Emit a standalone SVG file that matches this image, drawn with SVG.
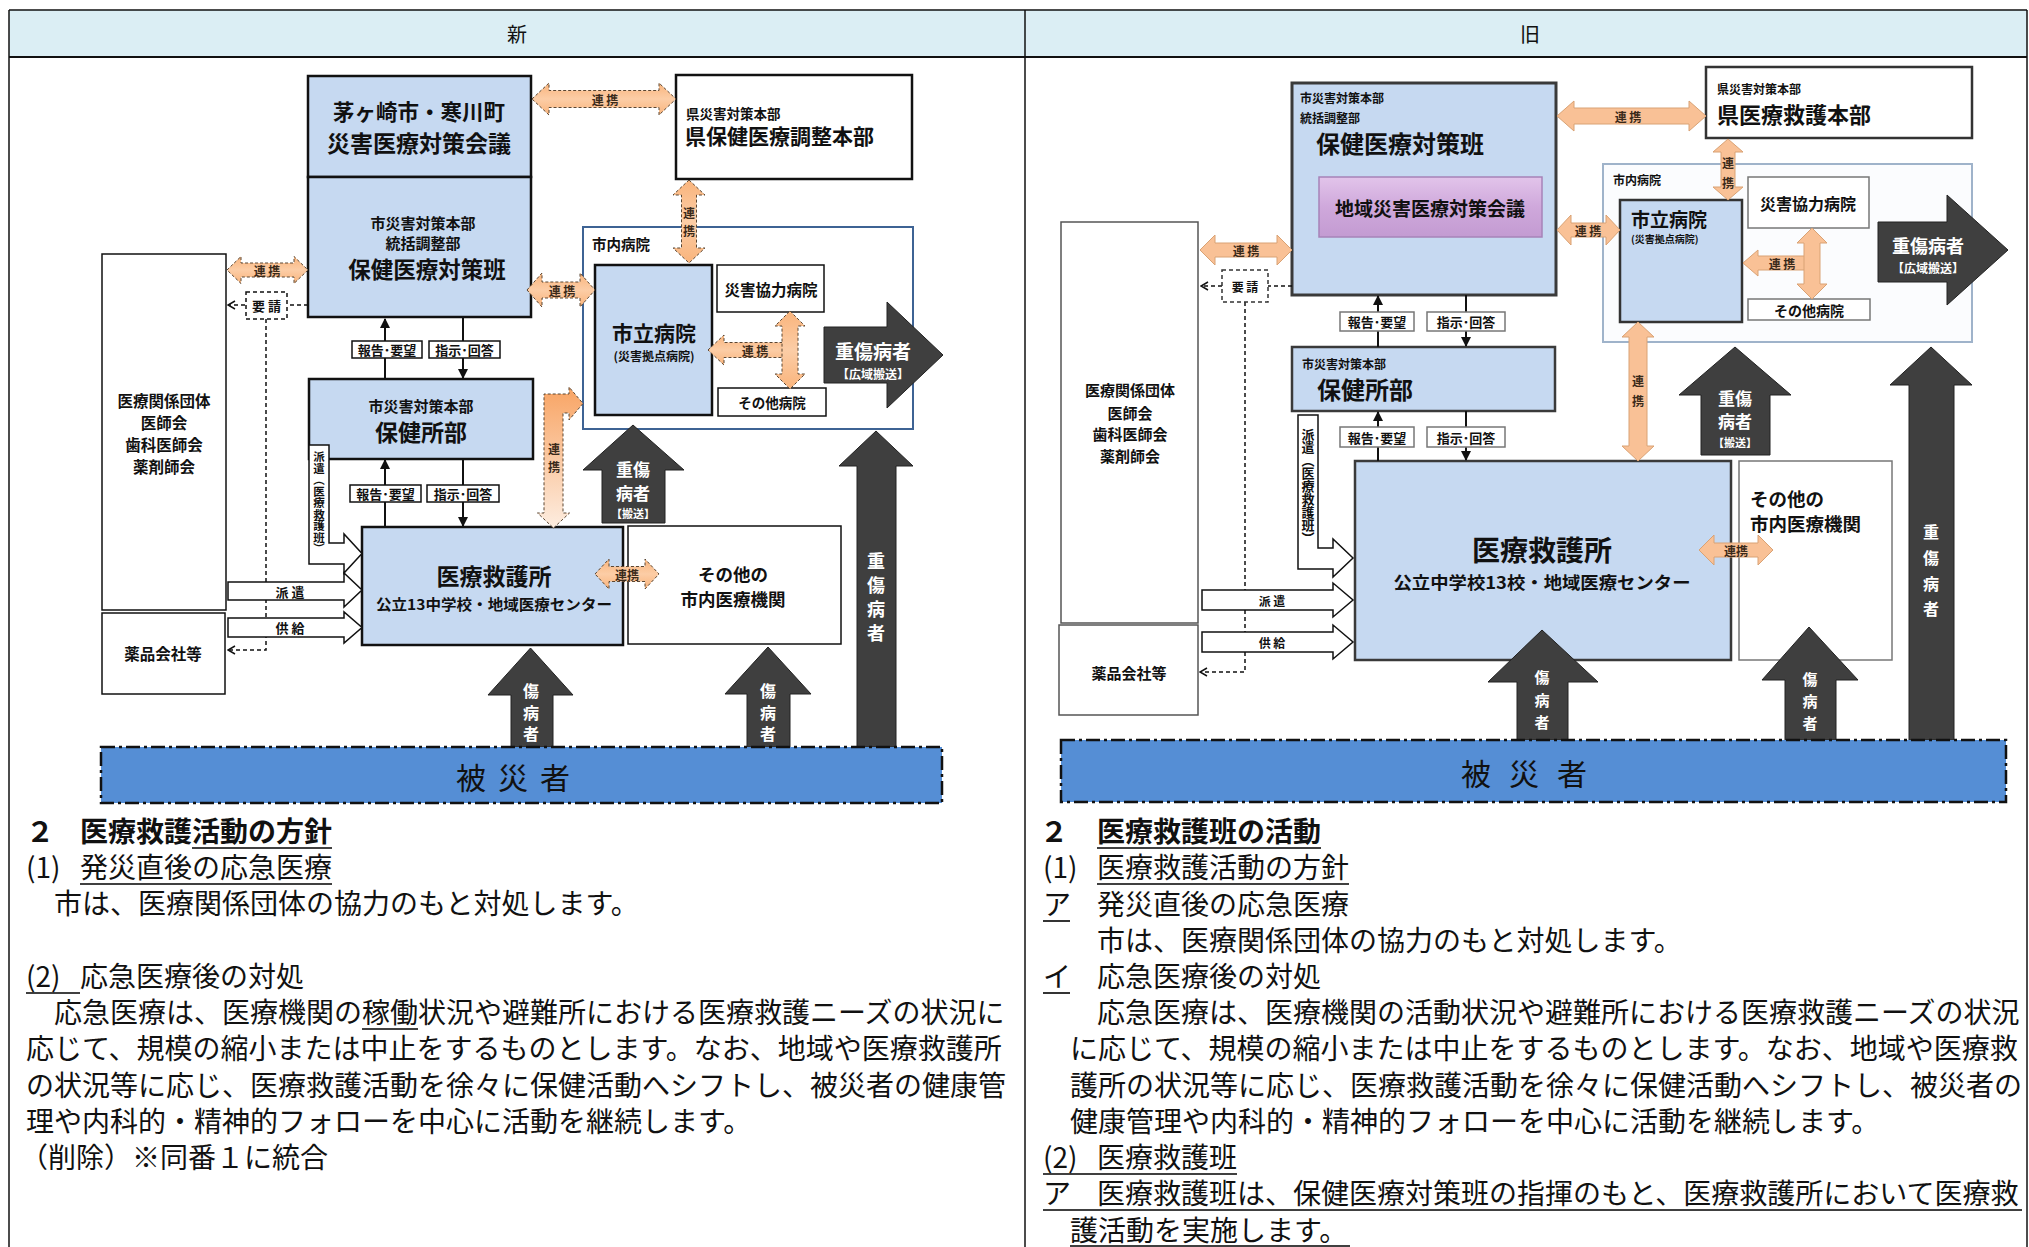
<svg xmlns="http://www.w3.org/2000/svg" width="2029" height="1247" viewBox="0 0 2029 1247">
<defs>
<style>
text{font-family:'Noto Sans CJK JP','Noto Sans',sans-serif;fill:#111}
.c{text-anchor:middle;dominant-baseline:central}
.s{dominant-baseline:central}
.b{font-weight:bold}
.w{fill:#fff;font-weight:bold}
.box{fill:#C6D9F1;stroke:#111;stroke-width:2.5}
.wbox{fill:#fff;stroke:#111;stroke-width:1.5}
.tbox{fill:#fff;stroke:#111;stroke-width:2.5}
.ora{fill:url(#og);stroke:#5a4632;stroke-width:1;stroke-dasharray:3 2}
.ora2{fill:#F9C196;stroke:#d9a274;stroke-width:1}
.dark{fill:#3f3f3f;stroke:#222;stroke-width:1}
.out{fill:#fff;stroke:#111;stroke-width:1.5}
.ln{stroke:#111;stroke-width:2;fill:none}
.dl{stroke:#111;stroke-width:1.5;fill:none;stroke-dasharray:4 3}
.lab{fill:#fff;stroke:#111;stroke-width:1.5}
.lab2{fill:#fff;stroke:#777;stroke-width:1.5}
.band{fill:#558ED5;stroke:#111;stroke-width:2.5;stroke-dasharray:14 4 3 4}
.body{font-size:28px}
.ul{stroke:#000;stroke-width:1.6}
.lk{font-size:12px;font-weight:bold;fill:#3a2a1a}
</style>
<linearGradient id="og" x1="0" y1="0" x2="0" y2="1">
<stop offset="0" stop-color="#F9B47C"/><stop offset="0.5" stop-color="#FCCDA6"/><stop offset="1" stop-color="#F9B47C"/>
</linearGradient>
<linearGradient id="ogv" x1="0" y1="0" x2="0" y2="1">
<stop offset="0" stop-color="#F8A464"/><stop offset="1" stop-color="#FDEDE0"/>
</linearGradient>
<linearGradient id="pg" x1="0" y1="0" x2="0" y2="1">
<stop offset="0" stop-color="#E2C4EA"/><stop offset="0.5" stop-color="#CFA8DB"/><stop offset="1" stop-color="#C39BD2"/>
</linearGradient>
<marker id="ah" viewBox="0 0 10 10" refX="9" refY="5" markerWidth="10" markerHeight="10" markerUnits="userSpaceOnUse" orient="auto"><path d="M0,0 L10,5 L0,10 Z" fill="#111"/></marker>
<marker id="oh" viewBox="0 0 10 10" refX="9" refY="5" markerWidth="10" markerHeight="10" markerUnits="userSpaceOnUse" orient="auto"><path d="M2,1 L9,5 L2,9" fill="none" stroke="#111" stroke-width="1.5"/></marker>
</defs>

<rect width="2029" height="1247" fill="#fff"/>

<g id="table">
<rect x="9" y="10" width="2018" height="47" fill="#DBEEF4"/>
<line x1="9" y1="10" x2="2027" y2="10" stroke="#111" stroke-width="1.5"/>
<line x1="9" y1="57" x2="2027" y2="57" stroke="#111" stroke-width="2"/>
<line x1="9" y1="10" x2="9" y2="1247" stroke="#111" stroke-width="1.5"/>
<line x1="1025" y1="10" x2="1025" y2="1247" stroke="#111" stroke-width="1.5"/>
<line x1="2027" y1="10" x2="2027" y2="1247" stroke="#111" stroke-width="1.5"/>
<text class="c" x="517" y="33" font-size="20">新</text>
<text class="c" x="1530" y="33" font-size="20">旧</text>
</g>

<!-- ================= NEW (left) nodes ================= -->
<g id="new-hospitals">
<rect x="583" y="227" width="330" height="202" fill="#fff" stroke="#3E6394" stroke-width="2"/>
<text class="s b" x="592" y="243" font-size="14.5">市内病院</text>
</g>
<g id="new-shiritsu">
<rect class="box" x="595" y="265" width="117" height="150"/>
<text class="c b" x="654" y="332" font-size="21">市立病院</text>
<text class="c b" x="654" y="355" font-size="12">(災害拠点病院)</text>
</g>
<g id="new-kyoryoku">
<rect class="wbox" x="717" y="265" width="107" height="47"/>
<text class="c b" x="771" y="289" font-size="15.5">災害協力病院</text>
</g>
<g id="new-sonota-byoin">
<rect class="wbox" x="718" y="388" width="108" height="28"/>
<text class="c b" x="772" y="402" font-size="13.5">その他病院</text>
</g>
<g id="new-kaigi">
<rect class="box" x="308" y="76" width="223" height="101"/>
<text class="c b" x="419" y="110" font-size="21.5">茅ヶ崎市・寒川町</text>
<text class="c b" x="419" y="142" font-size="23">災害医療対策会議</text>
</g>
<g id="new-taisakuhan">
<rect class="box" x="308" y="177" width="223" height="140"/>
<text class="c b" x="423" y="222" font-size="15">市災害対策本部</text>
<text class="c b" x="423" y="242" font-size="15">統括調整部</text>
<text class="c b" x="427" y="268" font-size="22.5">保健医療対策班</text>
</g>
<g id="new-ken">
<rect class="tbox" x="676" y="75" width="236" height="104"/>
<text class="s b" x="686" y="113" font-size="13.5">県災害対策本部</text>
<text class="s b" x="685" y="135" font-size="21">県保健医療調整本部</text>
</g>
<g id="new-hokenjo">
<rect class="box" x="309" y="379" width="224" height="80"/>
<text class="c b" x="421" y="405" font-size="15">市災害対策本部</text>
<text class="c b" x="421" y="431" font-size="23">保健所部</text>
</g>
<g id="new-dantai">
<rect class="wbox" x="102" y="254" width="124" height="356"/>
<text class="c b" x="164" y="400" font-size="15.5">医療関係団体</text>
<text class="c b" x="164" y="422" font-size="15.5">医師会</text>
<text class="c b" x="164" y="444" font-size="15.5">歯科医師会</text>
<text class="c b" x="164" y="466" font-size="15.5">薬剤師会</text>
</g>
<g id="new-yakuhin">
<rect class="wbox" x="102" y="613" width="123" height="81"/>
<text class="c b" x="163" y="653" font-size="15.5">薬品会社等</text>
</g>
<g id="new-kyugosho">
<rect class="box" x="362" y="527" width="261" height="118"/>
<text class="c b" x="494" y="575" font-size="23">医療救護所</text>
<text class="c b" x="494" y="603" font-size="14.5" textLength="236" lengthAdjust="spacingAndGlyphs">公立13中学校・地域医療センター</text>
</g>
<g id="new-sonota">
<rect class="wbox" x="628" y="526" width="213" height="118"/>
<text class="c b" x="733" y="573" font-size="17.5">その他の</text>
<text class="c b" x="733" y="598" font-size="17.5">市内医療機関</text>
</g>

<!-- ================= NEW connectors ================= -->
<g id="new-connectors">
<line class="ln" x1="385" y1="379" x2="385" y2="319" marker-end="url(#ah)"/>
<line class="ln" x1="463" y1="317" x2="463" y2="378" marker-end="url(#ah)"/>
<line class="ln" x1="385" y1="527" x2="385" y2="460" marker-end="url(#ah)"/>
<line class="ln" x1="463" y1="459" x2="463" y2="526" marker-end="url(#ah)"/>
<rect class="lab" x="352" y="341" width="70" height="17"/><text class="c b" x="387" y="349.5" font-size="13">報告･要望</text>
<rect class="lab" x="429" y="341" width="71" height="17"/><text class="c b" x="464.5" y="349.5" font-size="13">指示･回答</text>
<rect class="lab" x="350" y="485" width="71" height="17"/><text class="c b" x="385.5" y="493.5" font-size="13">報告･要望</text>
<rect class="lab" x="427" y="485" width="72" height="17"/><text class="c b" x="463" y="493.5" font-size="13">指示･回答</text>
<line class="dl" x1="308" y1="305" x2="228" y2="305" marker-end="url(#oh)"/>
<polyline class="dl" points="266,319 266,650 228,650" marker-end="url(#oh)"/>
<rect x="246" y="292" width="41" height="27" fill="#fff" stroke="#111" stroke-width="1.5" stroke-dasharray="4 3"/>
<text class="c b" x="266.5" y="305.5" font-size="13">要 請</text>
<path class="ora" d="M532 99 L549 83 L549 90.5 L659 90.5 L659 83 L676 99 L659 115 L659 107.5 L549 107.5 L549 115 Z"/>
<text class="c lk" x="605" y="99">連 携</text>
<path class="ora" d="M227 270 L241 256.5 L241 263 L294 263 L294 256.5 L308 270 L294 283.5 L294 277 L241 277 L241 283.5 Z"/>
<text class="c lk" x="267" y="270">連 携</text>
<path class="ora" d="M527 290 L542 273 L542 282 L580 282 L580 273 L595 290 L580 307 L580 298 L542 298 L542 307 Z"/>
<text class="c lk" x="562" y="290">連 携</text>
<path class="ora" d="M689 180 L705 195 L696.5 195 L696.5 248 L705 248 L689 263 L673 248 L681.5 248 L681.5 195 L673 195 Z"/>
<text class="c lk" x="689" y="212">連</text><text class="c lk" x="689" y="230">携</text>
<path class="ora" d="M708 350 L724 335 L724 342.5 L783 342.5 L783 357.5 L724 357.5 L724 365 Z"/>
<path class="ora" d="M790 311 L805 326 L798 326 L798 374 L805 374 L790 389 L775 374 L782 374 L782 326 L775 326 Z"/>
<text class="c lk" x="755" y="350">連 携</text>
<path class="ora" d="M595 574 L609 559 L609 566.5 L645 566.5 L645 559 L659 574 L645 589 L645 581.5 L609 581.5 L609 589 Z"/>
<text class="c lk" x="627" y="574">連携</text>
<path d="M553.5 528 L569.5 513 L563 513 L563 413 L569 413 L569 420 L583 403.5 L569 387 L569 394 L544 394 L544 513 L537.5 513 Z" fill="url(#ogv)" stroke="#5a4632" stroke-width="1" stroke-dasharray="3 2"/>
<text class="c lk" x="554" y="448">連</text><text class="c lk" x="554" y="466">携</text>
<path class="out" d="M309 445 L329 445 L329 543 L344 543 L344 534 L362 553.5 L344 573 L344 564 L309 564 Z"/>
<text x="319" y="451" font-size="11.5" font-weight="bold" style="writing-mode:vertical-rl">派遣（医療救護班）</text>
<path class="out" d="M228 582 L344 582 L344 573 L362 590 L344 607 L344 600 L228 600 Z"/>
<text class="c b" x="290" y="591" font-size="13">派 遣</text>
<path class="out" d="M228 618 L344 618 L344 612 L362 627.5 L344 643 L344 637 L228 637 Z"/>
<text class="c b" x="290" y="627.5" font-size="13">供 給</text>
</g>

<g id="new-patient-arrows">
<path class="dark" d="M824 327 L887 327 L887 302 L943 355 L887 408 L887 383 L824 383 Z"/>
<text class="c w" x="873" y="350" font-size="19">重傷病者</text>
<text class="c w" x="873" y="373" font-size="12">【広域搬送】</text>
<path class="dark" d="M633 425 L684 470 L665 470 L665 523 L602 523 L602 470 L583 470 Z"/>
<text class="c w" x="633" y="468" font-size="17">重傷</text>
<text class="c w" x="633" y="492" font-size="17">病者</text>
<text class="c w" x="633" y="513" font-size="11">【搬送】</text>
<path class="dark" d="M876 431 L913 466 L896 466 L896 747 L857 747 L857 466 L839 466 Z"/>
<text class="c w" x="876" y="560" font-size="18">重</text>
<text class="c w" x="876" y="584" font-size="18">傷</text>
<text class="c w" x="876" y="608" font-size="18">病</text>
<text class="c w" x="876" y="632" font-size="18">者</text>
<path class="dark" d="M530.5 648 L573 695 L553 695 L553 747 L511 747 L511 695 L488 695 Z"/>
<text class="c w" x="531" y="690" font-size="16">傷</text>
<text class="c w" x="531" y="712" font-size="16">病</text>
<text class="c w" x="531" y="733" font-size="16">者</text>
<path class="dark" d="M768 647 L811 694 L790 694 L790 747 L747 747 L747 694 L725 694 Z"/>
<text class="c w" x="768" y="690" font-size="16">傷</text>
<text class="c w" x="768" y="712" font-size="16">病</text>
<text class="c w" x="768" y="733" font-size="16">者</text>
</g>
<g id="new-hisaisha">
<rect class="band" x="101" y="747" width="841" height="56"/>
<text class="c" x="519" y="776" font-size="30" letter-spacing="12">被災者</text>
</g>

<!-- ================= OLD (right) nodes ================= -->
<g id="old-taisakuhan">
<rect x="1292" y="83" width="264" height="212" fill="#C6D9F1" stroke="#3a3a3a" stroke-width="3"/>
<text class="s b" x="1300" y="97" font-size="12" fill="#333">市災害対策本部</text>
<text class="s b" x="1300" y="117" font-size="12" fill="#333">統括調整部</text>
<text class="s b" x="1316" y="142" font-size="24">保健医療対策班</text>
</g>
<g id="old-chiiki-kaigi">
<rect x="1319" y="177" width="223" height="60" fill="url(#pg)" stroke="#A783B8" stroke-width="1.5"/>
<text class="c b" x="1430" y="207" font-size="19" fill="#222">地域災害医療対策会議</text>
</g>
<g id="old-ken">
<rect x="1706" y="67" width="266" height="71" fill="#fff" stroke="#333" stroke-width="2.5"/>
<text class="s b" x="1717" y="88" font-size="12" fill="#333">県災害対策本部</text>
<text class="s b" x="1717" y="113" font-size="22">県医療救護本部</text>
</g>
<g id="old-hospitals">
<rect x="1603" y="164" width="369" height="178" fill="#FBFCFE" stroke="#9FB3CA" stroke-width="2"/>
<text class="s b" x="1613" y="179" font-size="12" fill="#333">市内病院</text>
</g>
<g id="old-shiritsu">
<rect x="1620" y="200" width="122" height="122" fill="#C6D9F1" stroke="#333" stroke-width="2.5"/>
<text class="s b" x="1631" y="218" font-size="19">市立病院</text>
<text class="s b" x="1631" y="238" font-size="10" fill="#333">(災害拠点病院)</text>
</g>
<g id="old-kyoryoku">
<rect x="1748" y="177" width="121" height="51" fill="#fff" stroke="#777" stroke-width="1.5"/>
<text class="c b" x="1808" y="203" font-size="16" fill="#444">災害協力病院</text>
</g>
<g id="old-sonota-byoin">
<rect x="1748" y="299" width="122" height="21" fill="#fff" stroke="#777" stroke-width="1.5"/>
<text class="c b" x="1809" y="310" font-size="14" fill="#444">その他病院</text>
</g>
<g id="old-hokenjo">
<rect x="1292" y="347" width="263" height="64" fill="#C6D9F1" stroke="#3a3a3a" stroke-width="2.5"/>
<text class="s b" x="1302" y="363" font-size="12" fill="#333">市災害対策本部</text>
<text class="s b" x="1317" y="388" font-size="24">保健所部</text>
</g>
<g id="old-dantai">
<rect x="1061" y="222" width="137" height="401" fill="#fff" stroke="#555" stroke-width="1.5"/>
<text class="c b" x="1130" y="389" font-size="15" fill="#444">医療関係団体</text>
<text class="c b" x="1130" y="412" font-size="15" fill="#444">医師会</text>
<text class="c b" x="1130" y="433" font-size="15" fill="#444">歯科医師会</text>
<text class="c b" x="1130" y="455" font-size="15" fill="#444">薬剤師会</text>
</g>
<g id="old-yakuhin">
<rect x="1059" y="625" width="139" height="90" fill="#fff" stroke="#555" stroke-width="1.5"/>
<text class="c b" x="1129" y="672" font-size="15" fill="#444">薬品会社等</text>
</g>
<g id="old-kyugosho">
<rect x="1355" y="461" width="376" height="199" fill="#C6D9F1" stroke="#3a3a3a" stroke-width="2.5"/>
<text class="c b" x="1542" y="549" font-size="28">医療救護所</text>
<text class="c b" x="1542" y="581" font-size="17" fill="#333" textLength="297" lengthAdjust="spacingAndGlyphs">公立中学校13校・地域医療センター</text>
</g>
<g id="old-sonota">
<rect x="1739" y="461" width="153" height="199" fill="#fff" stroke="#777" stroke-width="1.5"/>
<text class="s b" x="1750" y="498" font-size="18.5" fill="#333">その他の</text>
<text class="s b" x="1750" y="523" font-size="18.5" fill="#333">市内医療機関</text>
</g>

<!-- ================= OLD connectors ================= -->
<g id="old-connectors">
<line class="ln" x1="1378" y1="347" x2="1378" y2="296" marker-end="url(#ah)"/>
<line class="ln" x1="1466" y1="295" x2="1466" y2="346" marker-end="url(#ah)"/>
<line class="ln" x1="1378" y1="461" x2="1378" y2="412" marker-end="url(#ah)"/>
<line class="ln" x1="1466" y1="411" x2="1466" y2="460" marker-end="url(#ah)"/>
<rect class="lab2" x="1340" y="312" width="74" height="19"/><text class="c b" x="1377" y="321.5" font-size="13" fill="#333">報告･要望</text>
<rect class="lab2" x="1427" y="312" width="78" height="19"/><text class="c b" x="1466" y="321.5" font-size="13" fill="#333">指示･回答</text>
<rect class="lab2" x="1340" y="427" width="74" height="20"/><text class="c b" x="1377" y="437" font-size="13" fill="#333">報告･要望</text>
<rect class="lab2" x="1427" y="427" width="78" height="20"/><text class="c b" x="1466" y="437" font-size="13" fill="#333">指示･回答</text>
<line class="dl" x1="1292" y1="286" x2="1201" y2="286" marker-end="url(#oh)"/>
<polyline class="dl" points="1245,302 1245,672 1200,672" marker-end="url(#oh)"/>
<rect x="1222" y="270" width="46" height="32" fill="#fff" stroke="#333" stroke-width="1.5" stroke-dasharray="4 3"/>
<text class="c b" x="1245" y="286" font-size="12" fill="#333">要 請</text>
<path class="ora2" d="M1557 116 L1574 101 L1574 108 L1689 108 L1689 101 L1706 116 L1689 131 L1689 124 L1574 124 L1574 131 Z"/>
<text class="c lk" x="1628" y="116">連 携</text>
<path class="ora2" d="M1200 250 L1215 235 L1215 243 L1277 243 L1277 235 L1292 250 L1277 265 L1277 257 L1215 257 L1215 265 Z"/>
<text class="c lk" x="1246" y="250">連 携</text>
<path class="ora2" d="M1557 230 L1571 215 L1571 223 L1606 223 L1606 215 L1620 230 L1606 245 L1606 237 L1571 237 L1571 245 Z"/>
<text class="c lk" x="1588" y="230">連 携</text>
<path class="ora2" d="M1728 139 L1743 152 L1735 152 L1735 187 L1743 187 L1728 200 L1713 187 L1721 187 L1721 152 L1713 152 Z"/>
<text class="c lk" x="1728" y="162">連</text><text class="c lk" x="1728" y="182">携</text>
<path class="ora2" d="M1743 263 L1758 250 L1758 256 L1812 256 L1812 270 L1758 270 L1758 276 Z"/>
<path class="ora2" d="M1812 228 L1827 243 L1820 243 L1820 284 L1827 284 L1812 299 L1797 284 L1804 284 L1804 243 L1797 243 Z"/>
<text class="c lk" x="1782" y="263">連 携</text>
<path class="ora2" d="M1638 322 L1654 337 L1647 337 L1647 446 L1654 446 L1638 461 L1622 446 L1629 446 L1629 337 L1622 337 Z"/>
<text class="c lk" x="1638" y="380">連</text><text class="c lk" x="1638" y="400">携</text>
<path class="ora2" d="M1699 550 L1714 535 L1714 543 L1758 543 L1758 535 L1773 550 L1758 565 L1758 557 L1714 557 L1714 565 Z"/>
<text class="c lk" x="1736" y="550">連携</text>
<path class="out" d="M1298 415 L1318 415 L1318 548 L1333 548 L1333 539 L1353 558 L1333 577 L1333 569 L1298 569 Z" stroke="#333"/>
<text x="1308" y="428" font-size="13" font-weight="bold" fill="#444" style="writing-mode:vertical-rl">派遣（医療救護班）</text>
<path class="out" d="M1202 590 L1333 590 L1333 583 L1353 600 L1333 617 L1333 610 L1202 610 Z" stroke="#333"/>
<text class="c b" x="1272" y="600" font-size="12" fill="#444">派 遣</text>
<path class="out" d="M1202 632 L1333 632 L1333 625 L1353 642 L1333 659 L1333 652 L1202 652 Z" stroke="#333"/>
<text class="c b" x="1272" y="642" font-size="12" fill="#444">供 給</text>
</g>

<g id="old-patient-arrows">
<path class="dark" d="M1878 222 L1947 222 L1947 195 L2008 250 L1947 305 L1947 282 L1878 282 Z"/>
<text class="c w" x="1928" y="245" font-size="18">重傷病者</text>
<text class="c w" x="1928" y="267" font-size="12">【広域搬送】</text>
<path class="dark" d="M1735 347 L1791 395 L1770 395 L1770 455 L1701 455 L1701 395 L1679 395 Z"/>
<text class="c w" x="1735" y="397" font-size="17">重傷</text>
<text class="c w" x="1735" y="420" font-size="17">病者</text>
<text class="c w" x="1735" y="442" font-size="11">【搬送】</text>
<path class="dark" d="M1931 347 L1972 385 L1954 385 L1954 740 L1909 740 L1909 385 L1890 385 Z"/>
<text class="c w" x="1931" y="531" font-size="16">重</text>
<text class="c w" x="1931" y="557" font-size="16">傷</text>
<text class="c w" x="1931" y="583" font-size="16">病</text>
<text class="c w" x="1931" y="608" font-size="16">者</text>
<path class="dark" d="M1542 630 L1598 682 L1568 682 L1568 740 L1517 740 L1517 682 L1488 682 Z"/>
<text class="c w" x="1542" y="676" font-size="15">傷</text>
<text class="c w" x="1542" y="699" font-size="15">病</text>
<text class="c w" x="1542" y="721" font-size="15">者</text>
<path class="dark" d="M1809 627 L1858 680 L1836 680 L1836 740 L1785 740 L1785 680 L1762 680 Z"/>
<text class="c w" x="1810" y="678" font-size="15">傷</text>
<text class="c w" x="1810" y="700" font-size="15">病</text>
<text class="c w" x="1810" y="722" font-size="15">者</text>
</g>
<g id="old-hisaisha">
<rect class="band" x="1061" y="740" width="945" height="62"/>
<text class="c" x="1533" y="772" font-size="30" letter-spacing="18" fill="#1a2a40">被災者</text>
</g>

<!-- ================= BODY TEXT ================= -->
<g id="new-text">
<text class="body b" x="26" y="842">２<tspan x="80">医療救護活動の方針</tspan></text>
<line class="ul" x1="192" y1="848" x2="332" y2="848"/>
<text class="body" x="26" y="878">(1)<tspan x="80">発災直後の応急医療</tspan></text>
<line class="ul" x1="80" y1="884" x2="332" y2="884"/>
<text class="body" x="54" y="914">市は、医療関係団体の協力のもと対処します。</text>
<text class="body" x="26" y="987">(2)<tspan x="80">応急医療後の対処</tspan></text>
<line class="ul" x1="26" y1="993" x2="80" y2="993"/>
<text class="body" x="54" y="1023">応急医療は、医療機関の稼働状況や避難所における医療救護ニーズの状況に</text>
<line class="ul" x1="362" y1="1029" x2="418" y2="1029"/>
<text class="body" x="26" y="1059">応じて、規模の縮小または中止をするものとします。なお、地域や医療救護所</text>
<text class="body" x="26" y="1096">の状況等に応じ、医療救護活動を徐々に保健活動へシフトし、被災者の健康管</text>
<text class="body" x="26" y="1132">理や内科的・精神的フォローを中心に活動を継続します。</text>
<text class="body" x="20" y="1168">（削除）※同番１に統合</text>
</g>

<g id="old-text">
<text class="body b" x="1040" y="842">２<tspan x="1097">医療救護班の活動</tspan></text>
<line class="ul" x1="1097" y1="848" x2="1321" y2="848"/>
<text class="body" x="1043" y="878">(1)<tspan x="1097">医療救護活動の方針</tspan></text>
<line class="ul" x1="1097" y1="884" x2="1349" y2="884"/>
<text class="body" x="1043" y="915">ア<tspan x="1097">発災直後の応急医療</tspan></text>
<line class="ul" x1="1043" y1="921" x2="1070" y2="921"/>
<text class="body" x="1097" y="951">市は、医療関係団体の協力のもと対処します。</text>
<text class="body" x="1043" y="987">イ<tspan x="1097">応急医療後の対処</tspan></text>
<line class="ul" x1="1043" y1="993" x2="1070" y2="993"/>
<text class="body" x="1097" y="1023">応急医療は、医療機関の活動状況や避難所における医療救護ニーズの状況</text>
<text class="body" x="1070" y="1059">に応じて、規模の縮小または中止をするものとします。なお、地域や医療救</text>
<text class="body" x="1070" y="1096">護所の状況等に応じ、医療救護活動を徐々に保健活動へシフトし、被災者の</text>
<text class="body" x="1070" y="1132">健康管理や内科的・精神的フォローを中心に活動を継続します。</text>
<text class="body" x="1043" y="1168">(2)<tspan x="1097">医療救護班</tspan></text>
<line class="ul" x1="1043" y1="1174" x2="1237" y2="1174"/>
<text class="body" x="1043" y="1204">ア<tspan x="1097">医療救護班は、保健医療対策班の指揮のもと、医療救護所において医療救</tspan></text>
<line class="ul" x1="1043" y1="1210" x2="2022" y2="1210"/>
<text class="body" x="1070" y="1241">護活動を実施します。</text>
<line class="ul" x1="1070" y1="1246" x2="1350" y2="1246"/>
</g>
</svg>
